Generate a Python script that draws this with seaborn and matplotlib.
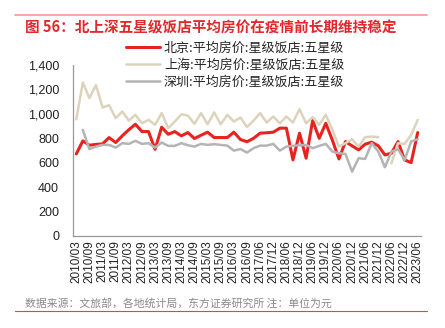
import numpy as np
import pandas as pd
import matplotlib
matplotlib.use("Agg")
import matplotlib.pyplot as plt
from matplotlib.lines import Line2D
import seaborn as sns

# ---------------- data ----------------
categories = (
    [f"{y}/{m:02d}" for y in range(2010, 2017) for m in (3, 6, 9, 12)][:27]
    + ["2016/12"]
    + [f"{y}/{m:02d}" for y in range(2017, 2024) for m in (3, 6, 9, 12)][1:26]
)

beijing = [672, 779, 743, 750, 754, 806, 765, 820, 870, 915, 855, 855, 710, 891, 833,
           855, 820, 847, 798, 825, 850, 806, 806, 806, 850, 790, 772, 800, 842, 845,
           850, 883, 883, 623, 842, 637, 945, 800, 923, 785, 631, 773, 738, 705, 752,
           768, 738, 664, 678, 773, 623, 601, 847]
shanghai = [956, 1257, 1129, 1235, 1052, 1071, 965, 1019, 945, 992, 923, 951, 910, 1006,
            883, 937, 997, 986, 918, 1006, 915, 1011, 915, 992, 937, 970, 892, 945, 1006,
            929, 978, 923, 978, 929, 1038, 923, 973, 910, 992, 869, 732, 760, 792, 732,
            809, 814, 809, np.nan, 596, 760, 754, 828, 951]
shenzhen = [np.nan, 869, 711, 732, 746, 746, 724, 760, 754, 779, 754, 760, 724, 765, 738,
            738, 760, 743, 732, 754, 746, 752, 746, 740, 699, 712, 683, 719, 740, 740,
            754, 699, 732, 738, 743, 746, 719, 738, 754, 691, 678, 672, 527, 637, 631,
            760, 691, 563, 691, 711, 623, 773, 792]

series_names = ["北京:平均房价:星级饭店:五星级",
                "上海:平均房价:星级饭店:五星级",
                "深圳:平均房价:星级饭店:五星级"]
series_values = [beijing, shanghai, shenzhen]
colors = ["#e8231f", "#ddd3bd", "#b4b4b4"]
widths = [2.2, 1.8, 1.8]

title = "图 56：北上深五星级饭店平均房价在疫情前长期维持稳定"
source = "数据来源：文旅部，各地统计局，东方证券研究所 注：单位为元"
yticks = [0, 200, 400, 600, 800, 1000, 1200, 1400]

# build long-form table, splitting lines at gaps (units)
rows = []
for name, vals in zip(series_names, series_values):
    seg = 0
    prev_nan = False
    for i, v in enumerate(vals):
        if np.isnan(v):
            prev_nan = True
            continue
        if prev_nan:
            seg += 1
            prev_nan = False
        rows.append({"x": i, "value": v, "series": name, "unit": f"{name}_{seg}"})
df = pd.DataFrame(rows)

# ---------------- plot ----------------
sns.set_theme(style="white")
plt.rcParams["font.family"] = ["Noto Sans CJK SC", "DejaVu Sans"]

fig = plt.figure(figsize=(4.45, 3.28), dpi=100)
ax = fig.add_axes([73 / 445, 1 - 236 / 328, (421 - 73) / 445, (236 - 65) / 328])

for name, c, lw in zip(series_names, colors, widths):
    sub = df[df["series"] == name]
    sns.lineplot(data=sub, x="x", y="value", units="unit", estimator=None,
                 color=c, linewidth=lw, ax=ax, legend=False)

ax.set_xlim(-0.5, len(categories) - 0.5)
ax.set_ylim(0, 1400)
ax.set_xlabel("")
ax.set_ylabel("")

ax.set_yticks(yticks)
ax.set_yticklabels([f"{v:,}" for v in yticks], fontsize=9, family="Liberation Sans",
                   color="#222222")
pos = list(range(0, len(categories), 2))
ax.set_xticks(pos)
ax.set_xticklabels([categories[i] for i in pos], rotation=90, fontsize=8.5,
                   family="Liberation Sans", color="#222222")
ax.set_xticks(np.arange(-0.5, len(categories), 1), minor=True)
ax.tick_params(axis="x", which="major", length=0, pad=3)
ax.tick_params(axis="x", which="minor", direction="in", length=3, color="#999999", width=0.8)
ax.tick_params(axis="y", which="major", direction="in", length=4, color="#999999",
               width=0.8, pad=10)

for s in ["top", "right"]:
    ax.spines[s].set_visible(False)
for s in ["left", "bottom"]:
    ax.spines[s].set_color("#999999")
    ax.spines[s].set_linewidth(0.9)

handles = [Line2D([], [], color=c, lw=lw) for c, lw in zip(colors, widths)]
fig.legend(handles, series_names, loc="upper left",
           bbox_to_anchor=(126 / 445, 1 - 42 / 328), frameon=False,
           fontsize=9.4, handlelength=2.6, handletextpad=0.3, labelspacing=0.3,
           borderaxespad=0, borderpad=0)

fig.text(25 / 445, 1 - 27 / 328, title, color="#e5262a", fontsize=10.5,
         fontweight="bold", va="center", ha="left")
fig.text(25 / 445, 1 - 303 / 328, source, color="#8a8a8a", fontsize=7.8,
         va="center", ha="left")
fig.add_artist(Line2D([15 / 445, 427 / 445], [1 - 15 / 328] * 2, color="#f4a19c", lw=1.3))
fig.add_artist(Line2D([15 / 445, 427 / 445], [1 - 311 / 328] * 2, color="#d84a3c", lw=0.8))

fig.savefig("out.png", dpi=100)
